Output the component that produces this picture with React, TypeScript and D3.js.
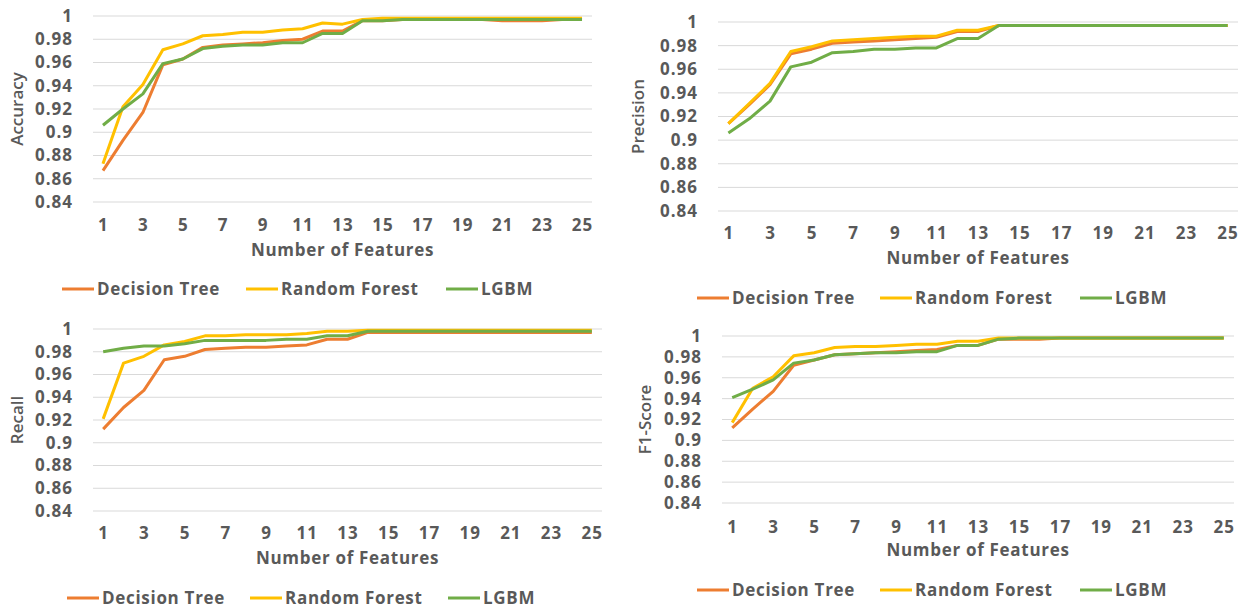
import React from "react";
import * as d3 from "d3";

// number of features on the x axis
const features = d3.range(1, 26);
const xTickLabels = [1, 3, 5, 7, 9, 11, 13, 15, 17, 19, 21, 23, 25];
const yTicks = [0.84, 0.86, 0.88, 0.9, 0.92, 0.94, 0.96, 0.98, 1];
const seriesNames = ["Decision Tree", "Random Forest", "LGBM"];
const colors = ["#ED7D31", "#FFC000", "#70AD47"];

// values
const accDT = [0.867, 0.893, 0.917, 0.958, 0.963, 0.973, 0.975, 0.976, 0.977, 0.979, 0.98, 0.987, 0.987, 0.996, 0.996, 0.997, 0.997, 0.997, 0.997, 0.997, 0.996, 0.996, 0.996, 0.997, 0.997];
const accRF = [0.873, 0.922, 0.941, 0.971, 0.976, 0.983, 0.984, 0.986, 0.986, 0.988, 0.989, 0.994, 0.993, 0.997, 0.998, 0.998, 0.998, 0.998, 0.998, 0.998, 0.998, 0.998, 0.998, 0.998, 0.998];
const accLGBM = [0.906, 0.92, 0.933, 0.959, 0.963, 0.972, 0.974, 0.975, 0.975, 0.977, 0.977, 0.985, 0.985, 0.996, 0.996, 0.997, 0.997, 0.997, 0.997, 0.997, 0.997, 0.997, 0.997, 0.997, 0.997];

const preDT = [0.914, 0.93, 0.947, 0.973, 0.977, 0.982, 0.983, 0.984, 0.985, 0.986, 0.987, 0.992, 0.992, 0.997, 0.997, 0.997, 0.997, 0.997, 0.997, 0.997, 0.997, 0.997, 0.997, 0.997, 0.997];
const preRF = [0.914, 0.931, 0.948, 0.975, 0.979, 0.984, 0.985, 0.986, 0.987, 0.988, 0.988, 0.993, 0.993, 0.997, 0.997, 0.997, 0.997, 0.997, 0.997, 0.997, 0.997, 0.997, 0.997, 0.997, 0.997];
const preLGBM = [0.906, 0.918, 0.933, 0.962, 0.966, 0.974, 0.975, 0.977, 0.977, 0.978, 0.978, 0.986, 0.986, 0.997, 0.997, 0.997, 0.997, 0.997, 0.997, 0.997, 0.997, 0.997, 0.997, 0.997, 0.997];

const recDT = [0.912, 0.931, 0.946, 0.973, 0.976, 0.982, 0.983, 0.984, 0.984, 0.985, 0.986, 0.991, 0.991, 0.997, 0.997, 0.997, 0.997, 0.997, 0.997, 0.997, 0.997, 0.997, 0.997, 0.997, 0.997];
const recRF = [0.921, 0.97, 0.976, 0.986, 0.989, 0.994, 0.994, 0.995, 0.995, 0.995, 0.996, 0.998, 0.998, 0.999, 0.999, 0.999, 0.999, 0.999, 0.999, 0.999, 0.999, 0.999, 0.999, 0.999, 0.999];
const recLGBM = [0.98, 0.983, 0.985, 0.985, 0.987, 0.99, 0.99, 0.99, 0.99, 0.991, 0.991, 0.994, 0.994, 0.998, 0.998, 0.998, 0.998, 0.998, 0.998, 0.998, 0.998, 0.998, 0.998, 0.998, 0.998];

const f1DT = [0.912, 0.93, 0.947, 0.972, 0.977, 0.982, 0.983, 0.984, 0.985, 0.986, 0.987, 0.991, 0.991, 0.997, 0.997, 0.997, 0.998, 0.998, 0.998, 0.998, 0.998, 0.998, 0.998, 0.998, 0.998];
const f1RF = [0.917, 0.95, 0.961, 0.981, 0.984, 0.989, 0.99, 0.99, 0.991, 0.992, 0.992, 0.995, 0.995, 0.998, 0.998, 0.998, 0.998, 0.998, 0.998, 0.998, 0.998, 0.998, 0.998, 0.998, 0.998];
const f1LGBM = [0.941, 0.949, 0.958, 0.974, 0.977, 0.982, 0.983, 0.984, 0.984, 0.985, 0.985, 0.991, 0.991, 0.997, 0.998, 0.998, 0.998, 0.998, 0.998, 0.998, 0.998, 0.998, 0.998, 0.998, 0.998];

const panels = [
  { label: "Accuracy", series: [accDT, accRF, accLGBM], left: 93, right: 592, top: 16, bottom: 202, tickY: 225, titleY: 250, labelX: 17, legendY: 289, legendX: [62, 246, 446] },
  { label: "Precision", series: [preDT, preRF, preLGBM], left: 718, right: 1238, top: 22, bottom: 211, tickY: 233, titleY: 258, labelX: 638, legendY: 298, legendX: [697, 880, 1080] },
  { label: "Recall", series: [recDT, recRF, recLGBM], left: 93, right: 602, top: 329, bottom: 511, tickY: 533, titleY: 558, labelX: 17, legendY: 598, legendX: [67, 250, 448] },
  { label: "F1-Score", series: [f1DT, f1RF, f1LGBM], left: 722, right: 1234, top: 336, bottom: 503, tickY: 527, titleY: 550, labelX: 645, legendY: 590, legendX: [697, 880, 1080] },
];

const textColor = "#595959";
const font = "'Open Sans', sans-serif";

function Panel({ p }) {
  const x = d3.scaleBand().domain(features.map(String)).range([p.left, p.right]);
  const cx = (f) => x(String(f)) + x.bandwidth() / 2;
  const y = d3.scaleLinear().domain([0.84, 1]).range([p.bottom, p.top]);
  const line = d3
    .line()
    .x((d, i) => cx(features[i]))
    .y((d) => y(d));

  return (
    <g>
      {yTicks.map((t) => (
        <g key={t}>
          <line x1={p.left} x2={p.right} y1={y(t)} y2={y(t)} stroke="#D9D9D9" strokeWidth={1} />
          <text x={p.left - 20} y={y(t)} dy="0.35em" textAnchor="end" fontSize={17} fontWeight="bold" fill={textColor} fontFamily={font} letterSpacing={1}>
            {String(t)}
          </text>
        </g>
      ))}
      {xTickLabels.map((t) => (
        <text key={t} x={cx(t) + 0.5} y={p.tickY} dy="0.35em" textAnchor="middle" fontSize={17} fontWeight="bold" fill={textColor} fontFamily={font} letterSpacing={1}>
          {t}
        </text>
      ))}
      {p.series.map((s, i) => (
        <path key={i} d={line(s)} fill="none" stroke={colors[i]} strokeWidth={3} strokeLinejoin="round" />
      ))}
      <text x={(p.left + p.right) / 2} y={p.titleY} dy="0.35em" textAnchor="middle" fontSize={17} fontWeight="bold" fill={textColor} fontFamily={font} letterSpacing={0.7}>
        Number of Features
      </text>
      <text transform={`translate(${p.labelX},${(p.top + p.bottom) / 2}) rotate(-90)`} dy="0.35em" textAnchor="middle" fontSize={17} fontWeight={600} fill={textColor} fontFamily={font}>
        {p.label}
      </text>
      {seriesNames.map((n, i) => (
        <g key={n}>
          <line x1={p.legendX[i]} x2={p.legendX[i] + 32} y1={p.legendY} y2={p.legendY} stroke={colors[i]} strokeWidth={3} />
          <text x={p.legendX[i] + 35} y={p.legendY} dy="0.35em" fontSize={17} fontWeight="bold" fill={textColor} fontFamily={font} letterSpacing={0.7}>
            {n}
          </text>
        </g>
      ))}
    </g>
  );
}

export default function App() {
  return (
    <svg width={1248} height={609} style={{ position: "absolute", left: 0, top: 0, background: "#fff" }}>
      {panels.map((p) => (
        <Panel key={p.label} p={p} />
      ))}
    </svg>
  );
}
